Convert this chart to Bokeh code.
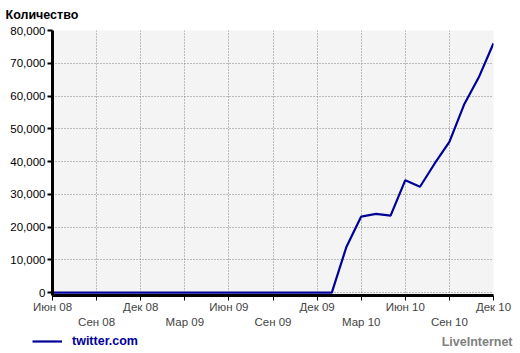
from bokeh.plotting import figure
from bokeh.layouts import column
from bokeh.models import (LinearAxis, FixedTicker, NumeralTickFormatter, Legend, LegendItem,
                          Label, Range1d, Grid)
from bokeh.embed import file_html
from bokeh.resources import INLINE

# Monthly data, Jun 2008 .. Dec 2010 (index 0 = Jun 08)
months = list(range(31))
visitors = [0] * 20 + [14000, 23200, 24000, 23500, 34300, 32300, 39400,
                       46000, 57400, 65700, 76100]

tick_pos = [0, 3, 6, 9, 12, 15, 18, 21, 24, 27, 30]
tick_labels = ["Июн 08", "Сен 08", "Дек 08", "Мар 09", "Июн 09", "Сен 09",
               "Дек 09", "Мар 10", "Июн 10", "Сен 10", "Дек 10"]
y_ticks = [0, 10000, 20000, 30000, 40000, 50000, 60000, 70000, 80000]
series_name = "twitter.com"

FONT = "Liberation Sans"
LINE_COLOR = "#000099"

p = figure(width=520, height=330, output_backend="svg", toolbar_location=None,
           x_axis_type=None, x_range=Range1d(0, 30), y_range=Range1d(-900, 80000),
           min_border_left=52, min_border_right=27, min_border_top=30, min_border_bottom=35)
p.background_fill_color = "#f4f4f4"
p.border_fill_color = "white"
p.outline_line_color = None

r = p.line(months, visitors, line_color=LINE_COLOR, line_width=2.2)

# y axis
ya = p.yaxis[0]
ya.ticker = FixedTicker(ticks=y_ticks)
ya.formatter = NumeralTickFormatter(format="0,0")
ya.axis_line_color = "black"
ya.axis_line_width = 3
ya.major_tick_line_width = 2
ya.major_tick_out = 5
ya.major_tick_in = 0
ya.minor_tick_line_color = None
ya.major_label_text_font = FONT
ya.major_label_text_font_size = "11.5px"
ya.major_label_text_color = "black"
ya.major_label_standoff = 2

# x axes (staggered labels)
ov1 = {t: (lab if i % 2 == 0 else "") for i, (t, lab) in enumerate(zip(tick_pos, tick_labels))}
ov2 = {t: (lab if i % 2 == 1 else "") for i, (t, lab) in enumerate(zip(tick_pos, tick_labels))}

xa1 = LinearAxis(ticker=FixedTicker(ticks=tick_pos), major_label_overrides=ov1)
xa1.axis_line_color = "black"
xa1.axis_line_width = 3
xa1.major_tick_line_width = 1
xa1.major_tick_out = 5
xa1.major_tick_in = 0
xa1.minor_tick_line_color = None
xa1.major_label_text_font = FONT
xa1.major_label_text_font_size = "11.5px"
xa1.major_label_standoff = 0
p.add_layout(xa1, "below")

xa2 = LinearAxis(ticker=FixedTicker(ticks=tick_pos), major_label_overrides=ov2)
xa2.axis_line_color = None
xa2.major_tick_line_color = None
xa2.minor_tick_line_color = None
xa2.major_tick_out = 0
xa2.major_tick_in = 0
xa2.major_label_text_font = FONT
xa2.major_label_text_font_size = "11.5px"
xa2.major_label_standoff = 0
p.add_layout(xa2, "below")

# grids
xgrid = Grid(dimension=0, ticker=FixedTicker(ticks=tick_pos))
p.add_layout(xgrid)
for g in [xgrid, p.ygrid[0]]:
    g.grid_line_color = "#808080"
    g.grid_line_dash = "1 2"
    g.grid_line_width = 1
p.ygrid[0].ticker = FixedTicker(ticks=y_ticks)

# title
p.title.text = "Количество"
p.title.align = "left"
p.title.offset = -47
p.title.standoff = 14
p.title.vertical_align = "top"
p.title.text_font = FONT
p.title.text_font_size = "12.5px"
p.title.text_font_style = "bold"
p.title.text_color = "black"

# legend strip
p2 = figure(width=520, height=23, output_backend="svg", toolbar_location=None,
            x_axis_type=None, y_axis_type=None, x_range=Range1d(0, 520), y_range=Range1d(0, 23),
            min_border=0)
p2.frame_align = False
p2.outline_line_color = None
p2.xgrid.visible = False
p2.ygrid.visible = False
lr = p2.line(x=[-10], y=[-10], line_color=LINE_COLOR, line_width=2.2)
legend = Legend(items=[LegendItem(label=series_name, renderers=[lr])], location=(32, 2),
                glyph_width=30, glyph_height=20, label_standoff=10, padding=0, margin=0,
                border_line_color=None, background_fill_alpha=0,
                label_text_font=FONT, label_text_font_size="12.5px",
                label_text_font_style="bold", label_text_color=LINE_COLOR)
p2.add_layout(legend, "center")
p2.add_layout(Label(x=512, y=12, x_units="screen", y_units="screen", text="LiveInternet",
                    text_font=FONT, text_font_size="12.5px", text_font_style="bold",
                    text_color="#808080", text_baseline="middle", text_align="right"))

layout = column(p, p2, spacing=0)
open("out.html", "w").write(file_html(layout, INLINE))
